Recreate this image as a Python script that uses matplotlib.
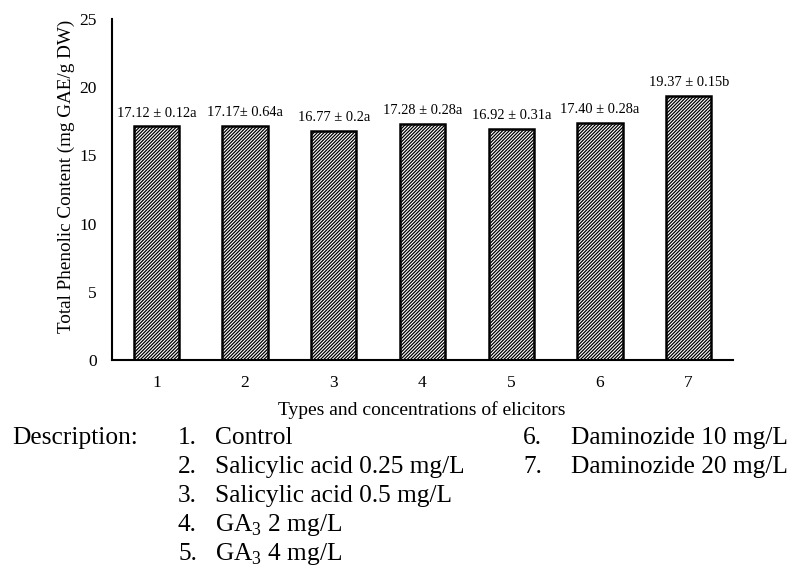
import matplotlib
matplotlib.use("Agg")
import matplotlib.pyplot as plt
import numpy as np

# data
groups = ["1", "2", "3", "4", "5", "6", "7"]
phenolic = [17.12, 17.17, 16.77, 17.28, 16.92, 17.40, 19.37]
bar_labels = ["17.12 ± 0.12a", "17.17± 0.64a", "16.77 ± 0.2a", "17.28 ± 0.28a",
              "16.92 ± 0.31a", "17.40 ± 0.28a", "19.37 ± 0.15b"]
desc_left = ["Control", "Salicylic acid 0.25 mg/L", "Salicylic acid 0.5 mg/L",
             r"GA$_\mathregular{3}$ 2 mg/L", r"GA$_\mathregular{3}$ 4 mg/L"]
desc_right = ["Daminozide 10 mg/L", "Daminozide 20 mg/L"]

plt.rcParams["font.family"] = ["Liberation Serif", "DejaVu Serif"]
plt.rcParams["mathtext.fontset"] = "custom"
plt.rcParams["mathtext.rm"] = "Liberation Serif"
plt.rcParams["hatch.linewidth"] = 0.9

W, H = 798, 572
fig = plt.figure(figsize=(W / 100, H / 100), dpi=100)
ax = fig.add_axes([112 / W, 1 - 360 / H, 621 / W, 341 / H])

x = np.arange(1, len(groups) + 1)
ax.bar(x, phenolic, width=0.51, color="white", edgecolor="black",
       linewidth=1.8, hatch="/" * 10)

for xi, v, lab in zip(x, phenolic, bar_labels):
    ax.text(xi, v + 0.5, lab, ha="center", va="bottom", fontsize=10.4)

ax.set_xlim(0.5, 7.5)
ax.set_ylim(0, 25)
ax.set_yticks([0, 5, 10, 15, 20, 25])
ax.set_xticks(x)
ax.set_xticklabels(groups)
ax.tick_params(axis="x", length=0, labelsize=12.5, pad=11)
ax.tick_params(axis="y", length=0, labelsize=12.5, pad=11)
for s in ["top", "right"]:
    ax.spines[s].set_visible(False)
ax.spines["left"].set_linewidth(1.5)
ax.spines["bottom"].set_linewidth(1.5)

# axis titles placed by hand like in the original figure
fig.text(66 / W, 1 - 176 / H, "Total Phenolic Content (mg GAE/g DW)",
         rotation=90, ha="center", va="center", fontsize=13.8)
fig.text(422 / W, 1 - 410 / H, "Types and concentrations of elicitors",
         ha="center", va="center", fontsize=14)

# description block under the chart
fs = 18.3
fig.text(12 / W, 1 - 438 / H, "Description:", fontsize=fs, va="center")
for i, t in enumerate(desc_left):
    yy = 1 - (438 + i * 29) / H
    fig.text(178 / W, yy, f"{i + 1}.", fontsize=fs, va="center")
    fig.text(215 / W, yy, t, fontsize=fs, va="center")
for i, t in enumerate(desc_right):
    yy = 1 - (438 + i * 29) / H
    fig.text(523 / W, yy, f"{i + 6}.", fontsize=fs, va="center")
    fig.text(571 / W, yy, t, fontsize=fs, va="center")

fig.savefig("out.png", dpi=100)
